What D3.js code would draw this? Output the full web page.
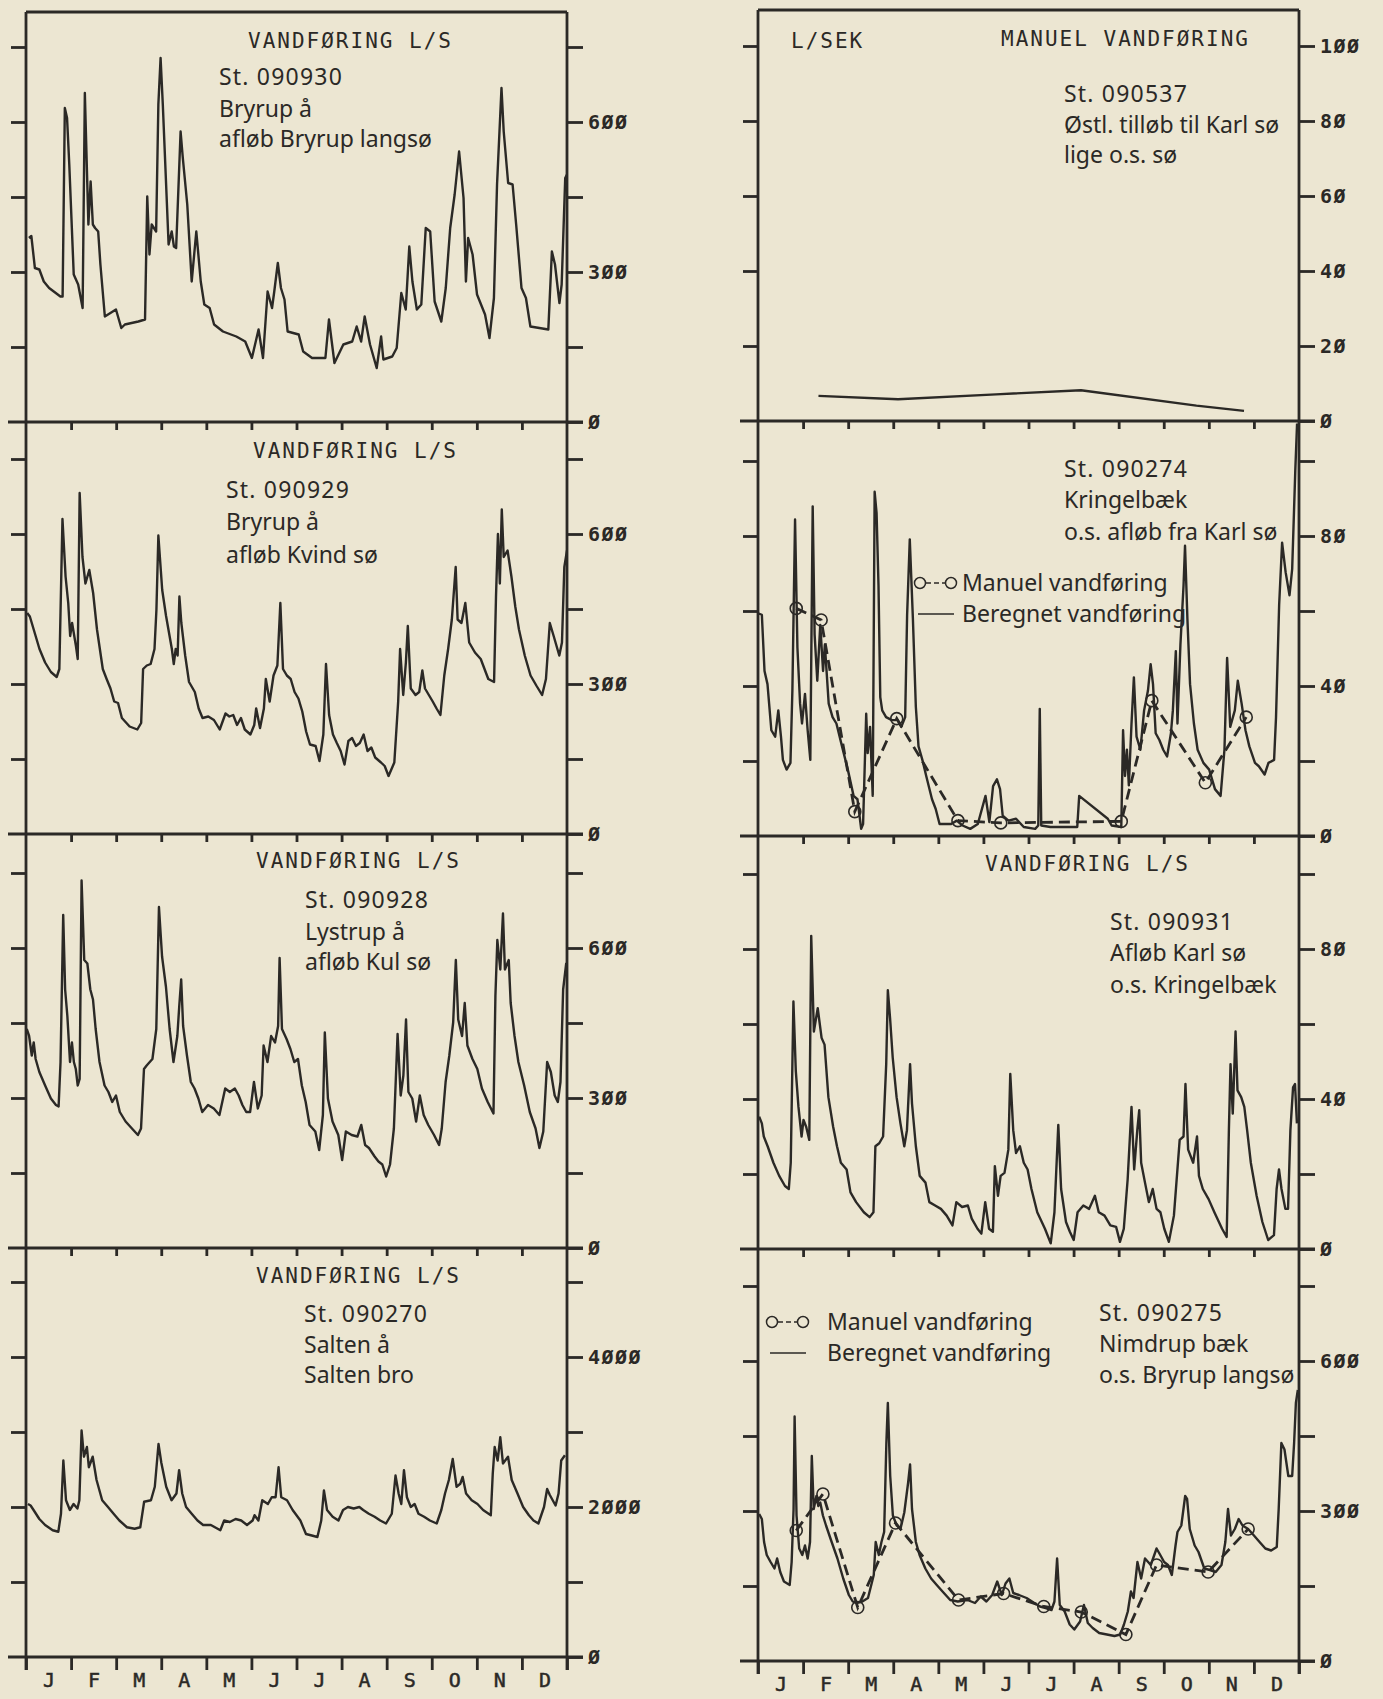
<!DOCTYPE html>
<html>
<head>
<meta charset="utf-8">
<script src="https://cdn.jsdelivr.net/npm/d3@7"></script>
<style>
  body { margin: 0; background: #ece6d2; }
  svg { display: block; }
</style>
</head>
<body>
<svg id="svg01" width="1383" height="1699"></svg>
<script>
// month letters along the bottom
const months = ["J","F","M","A","M","J","J","A","S","O","N","D"];

// daily discharge: [day of year, value]
const st090930 = [[2,368],[3.6,372],[6,308],[9,305],[12,281],[15.6,268],[23.2,251],[24.7,251],[26.2,628],[27.7,608],[29.2,515],[32.2,295],[35.2,275],[38.2,228],[39.7,658],[42.1,395],[43.6,481],[45.1,395],[46.6,388],[48.7,381],[50.2,315],[53.2,211],[60.7,225],[64.3,188],[66.7,195],[75.8,201],[80.3,205],[81.8,451],[83.3,335],[84.8,395],[87.8,381],[89.3,635],[90.8,728],[92.3,635],[96.2,355],[98.3,381],[99.8,351],[101.3,348],[104.3,581],[105.8,528],[108.8,435],[111.8,281],[114.9,381],[117.9,281],[120.3,235],[123.9,228],[126.9,195],[132.9,181],[141.9,171],[147.9,161],[152.4,128],[156.9,185],[159.9,128],[163,261],[166,228],[167.5,261],[169.9,318],[172,268],[174.4,245],[176.5,181],[184,175],[187,141],[193,128],[202,128],[204.4,205],[208.1,118],[214.1,155],[220.1,161],[223.1,191],[226.1,161],[228.5,211],[232.1,155],[236.6,108],[239.6,171],[241.1,125],[247.1,131],[250.1,148],[253.2,258],[256.2,225],[258.6,351],[260.7,281],[263.7,225],[266.7,235],[269.7,388],[272.7,381],[275.7,241],[280.2,201],[283.2,268],[286.2,388],[289.2,455],[292.2,541],[295.2,448],[296.8,281],[298.3,368],[301.3,335],[304.3,255],[309.7,215],[312.7,168],[315.7,248],[317.8,475],[320.8,668],[322.3,581],[325.3,478],[328.3,475],[330.7,395],[334.3,268],[337.3,248],[340.3,191],[352.4,185],[354.8,341],[356.9,315],[359.9,238],[361.4,275],[363.8,488],[365,495]];

const st090929 = [[0.8,442],[2.6,435],[5.2,409],[6.5,396],[9.1,370],[12.9,343],[16.8,324],[20.7,314],[22.5,330],[24.6,630],[26.7,515],[28.5,462],[29.8,396],[31.1,422],[33.7,376],[34.9,350],[36.2,682],[38.1,554],[40.1,501],[42.7,528],[45.3,482],[47.9,409],[51.8,330],[54.4,310],[57,291],[59.5,265],[62.1,262],[64.7,232],[69.9,215],[75.1,209],[77.7,222],[79,330],[81.5,337],[84.1,340],[86.7,370],[88,449],[89.3,597],[91.9,488],[94.5,436],[98.4,370],[99.7,340],[101,370],[102.3,357],[103.5,475],[104.8,422],[107.4,357],[110,304],[113.9,284],[116.5,251],[119.1,232],[123,235],[126.8,228],[130.7,209],[134.6,241],[137.2,235],[139.8,238],[142.4,218],[145,232],[147.6,209],[151.4,199],[154,218],[155.3,251],[157.9,212],[160.5,251],[161.8,310],[164.4,265],[167,317],[169.6,337],[171.6,462],[173.4,330],[176,317],[178.6,310],[181.2,284],[183.8,271],[186.4,245],[189,205],[191.6,179],[195.4,176],[198,146],[200.6,199],[202.4,340],[204.5,238],[207.1,199],[209.7,182],[212.3,166],[214.9,139],[217.5,186],[220,192],[222.6,176],[225.2,182],[227.8,199],[230.4,166],[233,173],[235.6,153],[239.5,143],[242,136],[244.6,116],[248.5,143],[251.1,265],[252.4,370],[254.5,278],[256.3,343],[257.6,416],[259.6,291],[262.8,278],[265.3,284],[267.4,327],[269.2,291],[271.8,278],[274.4,265],[277,251],[279.6,238],[282.2,317],[284.8,370],[287.3,429],[289.9,534],[291.2,429],[293.8,422],[296.4,462],[299,383],[302.9,363],[306.8,350],[311.9,310],[315.8,304],[317.1,475],[318.4,600],[319.7,501],[321,649],[322.3,554],[324.9,567],[327.5,515],[330.1,455],[332.6,409],[336.5,357],[340.4,317],[344.3,297],[348.2,278],[350.8,310],[353.4,422],[356,396],[359.8,357],[361.6,383],[363.2,534],[365,567]];

const st090928 = [[0.5,438],[2.1,424],[3.9,385],[5.2,411],[6.5,378],[9,352],[12.9,325],[16.8,299],[20.2,286],[22,283],[23.3,372],[25.1,666],[26.4,517],[27.9,464],[29.7,372],[31,411],[32.3,372],[33.6,358],[34.9,325],[36.2,338],[37.5,735],[39.3,576],[41.4,569],[43.4,517],[45.2,497],[47,438],[49.6,372],[53,325],[55.6,312],[58.2,292],[60.7,305],[63.3,272],[67.2,253],[72.4,236],[75.5,226],[77.6,239],[79.6,358],[81.4,365],[85.3,378],[87.9,438],[89.7,682],[91.8,583],[94.4,523],[96.9,438],[99.5,372],[102.1,424],[103.4,484],[104.7,537],[106,444],[108.6,385],[111.2,332],[113.7,319],[116.3,299],[118.9,272],[122.8,286],[126.7,279],[130.5,266],[134.4,319],[137.5,312],[140.9,319],[143.5,305],[146,286],[148.6,272],[151.2,272],[153.8,332],[156.4,279],[159,305],[160.3,405],[162.9,372],[165.4,424],[168,411],[170.1,444],[171.1,580],[172.7,438],[175.8,418],[178.4,398],[181,372],[183.5,378],[186.1,325],[188.7,292],[191.3,246],[195.2,233],[197.8,196],[200.3,266],[201.6,431],[203.7,299],[206.8,253],[210.7,226],[213.3,176],[215.8,233],[219.7,226],[223.6,223],[226.2,246],[228.8,206],[231.4,200],[235.2,183],[237.8,173],[240.4,167],[243,143],[245.6,167],[248.2,239],[250.7,428],[252.8,305],[254.6,345],[256.4,457],[258,312],[260.6,299],[263.2,253],[265.7,305],[268.3,266],[271.4,246],[275.3,226],[278.7,206],[280.5,239],[283.1,332],[285.6,385],[288.2,451],[290,576],[291.6,457],[294.2,424],[296,490],[297.8,405],[301.2,378],[304.5,358],[307.6,319],[311.5,292],[315.4,269],[316.7,504],[318,616],[320,557],[321.8,669],[323.1,557],[325.7,576],[327,490],[329.6,424],[332.2,372],[336.1,325],[339.9,272],[343.8,239],[346.4,200],[349,233],[351.6,372],[354.1,352],[356.7,305],[358.8,292],[360.6,332],[362.4,517],[364.5,570]];

const st090270 = [[1.3,2040],[3.1,2020],[5.1,1960],[9,1840],[12.9,1760],[18,1690],[21.8,1670],[23.6,1910],[25.2,2620],[27,2090],[29.6,1960],[32.1,2040],[34.7,1980],[36,2090],[37.5,3020],[39.1,2670],[41.1,2800],[42.4,2530],[45,2670],[47.6,2360],[51.4,2090],[55.3,2000],[59.1,1910],[63,1820],[68.1,1730],[73.3,1710],[77.1,1730],[79.7,2070],[84.3,2090],[86.9,2270],[89.4,2840],[91.3,2590],[94.6,2270],[98.2,2090],[101.5,2180],[103.3,2490],[105.4,2180],[108,2000],[111.8,1910],[115.7,1820],[119.5,1760],[124.7,1760],[131.1,1690],[133.7,1820],[137.5,1800],[141.4,1840],[145.2,1820],[149.1,1760],[152.9,1820],[154.2,1890],[156.8,1820],[159.4,2090],[163.2,2040],[165.8,2130],[168.4,2130],[170.4,2530],[172.2,2130],[176.1,2090],[179.9,1960],[185.1,1820],[188.9,1640],[192.8,1620],[196.6,1600],[199.2,1820],[201,2220],[203.1,1960],[206.9,1870],[210.8,1820],[213.9,1960],[217.2,2000],[221.1,1980],[224.9,2000],[227.5,1960],[231.3,1910],[235.2,1870],[239,1820],[242.9,1780],[246.8,1910],[249.3,2420],[251.4,2180],[253.2,2040],[255,2490],[257,2130],[259.6,2000],[262.2,2040],[264.8,1910],[268.6,1870],[272.5,1820],[277.1,1780],[280.2,1960],[282.7,2180],[285.3,2360],[287.9,2640],[290.5,2270],[293,2310],[294.6,2400],[296.9,2180],[300.7,2090],[304.6,2040],[308.4,1960],[313.6,1890],[314.9,2440],[316.2,2800],[318.2,2620],[320,2930],[321.8,2580],[325.2,2670],[327.7,2360],[331.6,2180],[335.4,2000],[339.3,1890],[342.4,1820],[345.7,1780],[349.5,2000],[351.6,2240],[353.4,2160],[357.3,2020],[359.3,2180],[361.1,2620],[363.6,2690]];

const st090537 = [[40.8,6.7],[94.5,5.8],[160.6,7.1],[217.9,8.2],[295.8,4.1],[327.9,2.7]];

const st090274 = [[0,59.4],[2.6,59],[4.4,44],[6.4,40.5],[9,28.2],[11.6,26.5],[13.7,33.5],[15.5,26.5],[16.8,20.3],[19.3,17.7],[21.9,19.5],[23.2,38.8],[25,84.4],[26.6,50.2],[28.4,35.3],[29.7,30],[31.7,37.9],[33.5,28.2],[35.3,20.3],[36.9,87.9],[38.2,53.7],[40,41.4],[42,56.3],[43.9,44],[45.1,51],[47.7,35.3],[50.3,31.7],[52.9,30],[56.7,23.9],[60.6,17.7],[64.5,10.7],[67.1,9.8],[69.6,1.9],[70.9,3.2],[73,32.6],[74,22.1],[75.6,29.1],[77.4,10.7],[78.7,91.8],[80,86.1],[81.3,66.8],[82.5,37],[83.8,33.5],[86.4,31.7],[90.3,30.9],[94.2,30.9],[96.7,29.1],[99.3,31.7],[100.6,58.9],[102.4,79.1],[104.5,58],[106.5,34.4],[108.3,23.9],[110.9,20.3],[113.5,16],[117.4,9.8],[119.9,7.2],[122.5,3.2],[130.3,3.2],[134.1,4.1],[138,2.8],[143.2,1.9],[148.3,3.2],[153.5,10.7],[156.1,3.7],[158.6,13.3],[161.2,15.1],[163.3,12.5],[165.1,5.4],[169,4.1],[174.1,4.6],[179.3,2.4],[187,1.9],[189.1,2.8],[190.1,33.9],[191.1,2.8],[197.3,2.4],[207.6,2.4],[215.4,2.4],[216.7,10.7],[236,4.6],[238.6,2.8],[245.1,2.4],[246.3,28.2],[247.6,16],[248.9,23],[250.2,13.5],[252,30],[253.6,42.3],[255.4,26.5],[258,23],[260.5,33.5],[263.1,38.8],[264.9,45.8],[266.5,40.5],[268.3,27.4],[270.8,25.6],[273.4,23],[276,21.2],[278.6,27.4],[279.9,33.5],[281.9,49.3],[283,30],[285,51],[287.1,66.8],[288.1,77.4],[289.7,58],[291.5,40.5],[294.1,30],[296.6,23],[300.5,19.5],[304.4,17.7],[308.3,12.5],[312.1,10.7],[314.7,23],[316.5,47.5],[318.6,29.1],[321.7,33.5],[323.7,41.4],[326.3,35.3],[328.9,28.2],[331.5,23.9],[335.3,19.5],[337.9,18.6],[341.8,16.4],[344.4,19.5],[348.2,20.3],[349.5,31.7],[351.6,61.6],[353.6,78.2],[356,70.3],[358.6,64.2],[360.4,71.2],[362.5,97.5],[363.7,110]];
const st090274Manual = [[25.8,60.7],[42.6,57.6],[65.3,6.5],[93.6,31.3],[134.9,4.1],[163.8,3.5],[245.1,3.9],[265.7,36.1],[301.8,14.2],[329.4,31.7]];

const st090931 = [[0.8,35.3],[2.6,33.5],[3.9,30],[6.5,27.4],[10.4,23],[14.3,19.5],[18.2,16.8],[20.8,16],[22.1,23],[23.9,66],[25.5,47.5],[27.3,37.9],[29.4,30],[30.7,34.4],[32.5,32.6],[34.6,29.1],[35.9,83.5],[37.7,58],[40.3,64.2],[42.9,56.3],[44.9,54.5],[47.5,40.5],[50.7,32.6],[53.3,27.4],[55.9,23],[59.8,21.2],[62.4,15.1],[66.2,12.5],[71.4,9.8],[75.3,8.5],[77.9,9.8],[79.2,27.4],[81.8,28.2],[84.4,30],[86.5,49.3],[87.6,69],[89.1,61.6],[90.9,51],[93.5,40.5],[96.1,33.5],[98.7,27.4],[100.5,31.7],[102.6,49.3],[103.9,38.8],[106.5,27.4],[109.1,19.5],[113,17.7],[115.6,12.5],[119.5,11.6],[123.4,10.7],[127.3,8.9],[131.2,6.3],[133.8,12.5],[137.7,11.2],[141.6,11.6],[144.2,8.1],[148.1,5.4],[150.7,4.1],[153.3,12.5],[155.9,5.4],[158.5,4.6],[159.8,22.1],[161.9,14.2],[163.7,19.5],[166.3,20.3],[168.9,26.5],[170.2,46.7],[172.2,31.7],[174.1,25.6],[176.7,27.4],[179.3,23],[181.9,21.2],[184.5,16],[188.4,9.8],[193.6,5.4],[197.5,1.5],[200,9.8],[202.6,33.1],[204.5,16],[207.8,7.2],[210.4,4.6],[213,2.4],[215.6,9.8],[219.5,11.6],[223.4,10.7],[227.3,14.2],[229.9,9.8],[233.8,8.9],[237.7,6.3],[241.6,5.9],[244.2,1.9],[246.8,5.4],[249.4,18.6],[252,37.9],[253.8,21.2],[255.9,31.7],[257.2,37],[258.5,23],[261.1,17.7],[263.7,12.5],[266.3,16],[268.9,10.7],[271.5,9.8],[274.1,5.4],[277.2,1.9],[280.6,8.9],[284.5,29.1],[287.1,30],[288.4,44],[290.2,26.5],[293.6,23],[296.2,30],[297.5,19.5],[300.1,16],[304,13.3],[307.9,9.8],[313.1,5.4],[316.2,3.2],[317.7,31.7],[318.8,49.3],[320.3,36.1],[322.2,58],[323.5,42.3],[326,40.5],[328.1,37.9],[330,31.7],[332.5,23],[336.4,14.2],[340.3,7.2],[344.2,2.4],[348.1,3.7],[349.9,16],[351.5,21.2],[353.2,16],[355.8,10.7],[357.6,10.7],[359.2,31.7],[361,43.1],[362.3,44],[363.6,33.5]];

const st090275 = [[0.8,294],[2.6,284],[4.1,238],[5.9,212],[8.5,198],[11.1,185],[12.9,205],[15,178],[17.5,159],[21.4,152],[22.7,198],[24,304],[24.7,489],[26,291],[27.8,225],[29.9,212],[31.7,231],[33.5,205],[35.1,238],[36.3,410],[37.6,304],[39.4,330],[40.7,310],[42,317],[43.8,291],[45.9,271],[49.7,238],[53.6,205],[57.5,165],[61.3,132],[63.9,119],[66.5,116],[70.4,119],[74.2,126],[78.1,172],[79.4,238],[81.5,212],[83.3,238],[85.1,258],[86.6,436],[87.6,516],[89.2,370],[91,291],[93.6,271],[96.1,264],[98.7,297],[101.3,357],[102.6,393],[103.9,304],[106.5,238],[109,212],[112.9,185],[116.8,165],[120.6,152],[124.5,139],[129.7,122],[134.8,119],[141.3,122],[146.4,116],[150.3,129],[154.1,119],[158,132],[161.4,159],[164.5,132],[167,155],[169.6,165],[172.2,136],[176.1,132],[181.2,126],[186.4,116],[190.2,109],[194.1,106],[198,102],[200,119],[201.8,205],[203.6,112],[206.9,99],[210.3,73],[213.4,63],[217.3,79],[219.9,112],[222.5,76],[225.8,66],[230.2,56],[235.4,53],[240.5,50],[244.4,53],[246.9,73],[249.5,99],[251.6,139],[253.4,126],[256,198],[258.5,165],[261.1,205],[265,192],[268.9,225],[271.4,212],[274,198],[276.6,192],[279.2,172],[281.7,231],[283,258],[285.6,271],[288.2,330],[289.5,324],[291.3,264],[294.6,231],[297.2,218],[301.1,185],[304.9,182],[308.8,178],[312.7,192],[315.3,238],[317.1,304],[319.1,251],[321.7,264],[324.3,284],[326.9,271],[330.7,264],[334.6,251],[338.4,238],[342.3,225],[346.2,221],[350,228],[351.3,304],[353.1,436],[355.2,423],[357.8,370],[360.4,370],[361.7,436],[362.9,516],[364.2,542]];
const st090275Manual = [[25.8,261],[43.8,334],[67.3,107],[92.8,276],[135.3,122],[165.7,135],[192.8,109],[218.1,98],[248.2,53],[268.9,192],[303.7,178],[330.7,264]];

// station captions
const txt090930 = ["St. 090930", "Bryrup å", "afløb Bryrup langsø"];
const txt090929 = ["St. 090929", "Bryrup å", "afløb Kvind sø"];
const txt090928 = ["St. 090928", "Lystrup å", "afløb Kul sø"];
const txt090270 = ["St. 090270", "Salten å", "Salten bro"];
const txt090537 = ["St. 090537", "Østl. tilløb til Karl sø", "lige o.s. sø"];
const txt090274 = ["St. 090274", "Kringelbæk", "o.s. afløb fra Karl sø"];
const txt090931 = ["St. 090931", "Afløb Karl sø", "o.s. Kringelbæk"];
const txt090275 = ["St. 090275", "Nimdrup bæk", "o.s. Bryrup langsø"];
const legendText = ["Manuel vandføring", "Beregnet vandføring"];

// ---- layout ----
const ink = "#2b2926";
const cols = [{x0: 26, x1: 567, top: 12, bases: [422, 834, 1248, 1657]},
              {x0: 758, x1: 1299, top: 10, bases: [421, 836, 1249, 1661]}];
const tickPx = 75;

const panels = [
  {c:0, r:0, step:150, every:2, data:st090930, text:txt090930, tx:219, ty:[85,117,147],
   titles:[{t:"VANDFØRING L/S", x:248, y:48}]},
  {c:0, r:1, step:150, every:2, data:st090929, text:txt090929, tx:226, ty:[498,530,563],
   titles:[{t:"VANDFØRING L/S", x:253, y:458}]},
  {c:0, r:2, step:150, every:2, data:st090928, text:txt090928, tx:305, ty:[908,940,970],
   titles:[{t:"VANDFØRING L/S", x:256, y:868}]},
  {c:0, r:3, step:1000, every:2, data:st090270, text:txt090270, tx:304, ty:[1322,1353,1383],
   titles:[{t:"VANDFØRING L/S", x:256, y:1283}]},
  {c:1, r:0, step:20, every:1, data:st090537, text:txt090537, tx:1064, ty:[102,133,163],
   titles:[{t:"L/SEK", x:791, y:48}, {t:"MANUEL VANDFØRING", x:1001, y:46}]},
  {c:1, r:1, step:20, every:2, data:st090274, manual:st090274Manual, text:txt090274, tx:1064, ty:[477,508,540],
   titles:[], legend:{x:920, y:583, tx:962, gap:31}},
  {c:1, r:2, step:20, every:2, data:st090931, text:txt090931, tx:1110, ty:[930,961,993],
   titles:[{t:"VANDFØRING L/S", x:985, y:871}]},
  {c:1, r:3, step:150, every:2, data:st090275, manual:st090275Manual, text:txt090275, tx:1099, ty:[1321,1352,1383],
   titles:[], legend:{x:772, y:1322, tx:827, gap:31}}
];

const svg = d3.select("#svg01");
const mono = "'DejaVu Sans Mono', 'Liberation Mono', monospace";
const sans = "'Noto Sans', 'Open Sans', sans-serif";
const zeroSlash = s => String(s).replace(/0/g, "Ø");

panels.forEach((p, i) => {
  const col = cols[p.c];
  const base = col.bases[p.r];
  const top = p.r === 0 ? col.top : col.bases[p.r - 1];
  const last = p.r === 3;

  const x = d3.scaleLinear().domain([0, 365]).range([col.x0, col.x1]);
  const y = d3.scaleLinear().domain([0, p.step]).range([base, base - tickPx]);
  const yTicks = d3.range(0, 6).map(k => k * p.step);

  const g = svg.append("g");

  // clip
  svg.append("clipPath").attr("id", "clip" + i)
    .append("rect").attr("x", col.x0).attr("y", top)
    .attr("width", col.x1 - col.x0).attr("height", base - top);

  // frame: sides and baseline
  g.append("line").attr("x1", col.x0).attr("x2", col.x0).attr("y1", top).attr("y2", last ? base + 13 : base);
  g.append("line").attr("x1", col.x1).attr("x2", col.x1).attr("y1", top).attr("y2", last ? base + 13 : base);
  g.append("line").attr("x1", col.x0 - 18).attr("x2", col.x1 + 16).attr("y1", base).attr("y2", base);
  if (p.r === 0) g.append("line").attr("x1", col.x0).attr("x2", col.x1).attr("y1", top).attr("y2", top);
  g.selectAll("line").attr("stroke", ink).attr("stroke-width", 2.8);

  // month ticks under the baseline
  const monthTicks = d3.range(last ? 0 : 1, last ? 13 : 12).map(m => m * 365 / 12);
  g.append("g")
    .attr("transform", `translate(0,${base})`)
    .call(d3.axisBottom(x).tickValues(monthTicks).tickSize(last ? 13 : 8).tickFormat(""))
    .call(a => a.select(".domain").remove());

  // left ticks
  g.append("g")
    .attr("transform", `translate(${col.x0},0)`)
    .call(d3.axisLeft(y).tickValues(yTicks.slice(1)).tickSize(15).tickFormat(""))
    .call(a => a.select(".domain").remove());

  // right ticks with labels
  g.append("g")
    .attr("transform", `translate(${col.x1},0)`)
    .call(d3.axisRight(y).tickValues(yTicks).tickSize(16).tickPadding(5)
      .tickFormat((d, k) => k % p.every === 0 ? zeroSlash(d) : ""))
    .call(a => a.select(".domain").remove())
    .call(a => a.selectAll("text").attr("font-family", mono).attr("font-weight", "bold")
      .attr("font-size", 20).attr("letter-spacing", 1.5).attr("fill", ink));

  g.selectAll(".tick line").attr("stroke", ink).attr("stroke-width", 2.8);

  // month letters
  if (last) {
    g.append("g")
      .attr("transform", `translate(0,${base + 16})`)
      .call(d3.axisBottom(x).tickValues(d3.range(12).map(m => (m + 0.5) * 365 / 12))
        .tickSize(0).tickPadding(0).tickFormat((d, k) => months[k]))
      .call(a => a.select(".domain").remove())
      .call(a => a.selectAll("text").attr("font-family", mono).attr("font-size", 20)
        .attr("fill", ink).attr("stroke", ink).attr("stroke-width", 0.5));
  }

  // discharge curve
  const line = d3.line().x(d => x(d[0])).y(d => y(d[1]));
  g.append("path")
    .attr("clip-path", `url(#clip${i})`)
    .attr("d", line(p.data))
    .attr("fill", "none").attr("stroke", ink).attr("stroke-width", 2.4)
    .attr("stroke-linejoin", "round");

  // manual measurements
  if (p.manual) {
    g.append("path")
      .attr("d", line(p.manual))
      .attr("fill", "none").attr("stroke", ink).attr("stroke-width", 2.8)
      .attr("stroke-dasharray", "11,6");
    g.selectAll("circle.m").data(p.manual).join("circle")
      .attr("class", "m")
      .attr("cx", d => x(d[0])).attr("cy", d => y(d[1])).attr("r", 6)
      .attr("fill", "none").attr("stroke", ink).attr("stroke-width", 1.6);
  }

  // titles in plotter lettering
  p.titles.forEach(t => {
    g.append("text").attr("x", t.x).attr("y", t.y).text(t.t)
      .attr("font-family", mono).attr("font-size", 21).attr("letter-spacing", 2)
      .attr("fill", ink);
  });

  // station caption
  p.text.forEach((s, k) => {
    g.append("text").attr("x", p.tx).attr("y", p.ty[k]).text(s)
      .attr("font-family", sans).attr("font-size", 23)
      .attr("letter-spacing", k === 0 ? 1.2 : 0).attr("fill", ink);
  });

  // legend
  if (p.legend) {
    const L = p.legend;
    g.append("line").attr("x1", L.x + 6).attr("x2", L.x + 26).attr("y1", L.y).attr("y2", L.y)
      .attr("stroke", ink).attr("stroke-width", 1.6).attr("stroke-dasharray", "5,3");
    [L.x, L.x + 31].forEach(cx => g.append("circle").attr("cx", cx).attr("cy", L.y).attr("r", 5.5)
      .attr("fill", "none").attr("stroke", ink).attr("stroke-width", 1.5));
    g.append("line").attr("x1", L.x - 2).attr("x2", L.x + 34).attr("y1", L.y + L.gap).attr("y2", L.y + L.gap)
      .attr("stroke", ink).attr("stroke-width", 1.6);
    legendText.forEach((s, k) => {
      g.append("text").attr("x", L.tx).attr("y", L.y + 8 + k * L.gap).text(s)
        .attr("font-family", sans).attr("font-size", 23).attr("fill", ink);
    });
  }
});
</script>
</body>
</html>
